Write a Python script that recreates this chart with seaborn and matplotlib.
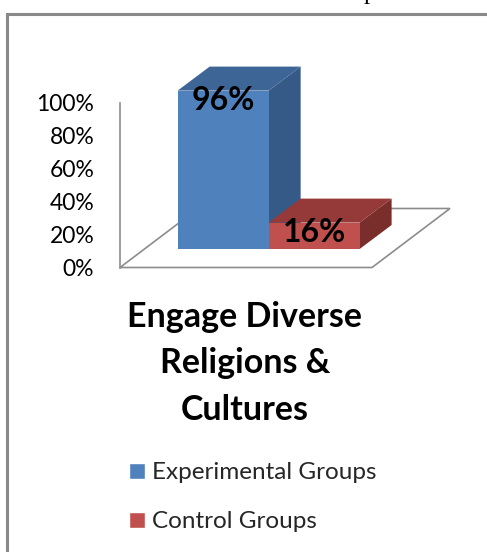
import matplotlib
matplotlib.use("Agg")
import matplotlib.pyplot as plt
from matplotlib.patches import Polygon, Rectangle
from matplotlib.transforms import ScaledTranslation
import seaborn as sns

# ---- data ----
groups = ["Experimental Groups", "Control Groups"]
values = [96, 16]
value_labels = ["96%", "16%"]
ticks = [0, 20, 40, 60, 80, 100]
tick_labels = ["0%", "20%", "40%", "60%", "80%", "100%"]
title = "Engage Diverse\nReligions &\nCultures"

front_colors = ["#4F81BD", "#C0504D"]
top_colors = ["#3D6596", "#953A38"]
side_colors = ["#365A88", "#7A2E2C"]
edge_gray = "#8C8C8C"

sns.set_theme(style="white")
plt.rcParams["font.family"] = ["Lato", "DejaVu Sans"]

W, H, DPI = 487, 552, 100
fig = plt.figure(figsize=(W / DPI, H / DPI), dpi=DPI)
fig.patch.set_facecolor("white")

# plot area (front plane of the 3-D box), placed in pixel units
left_px, right_px, base_px, top_px = 120, 372, 267.5, 102.5
ax = fig.add_axes([left_px / W, 1 - base_px / H,
                   (right_px - left_px) / W, (base_px - top_px) / H])
ax.set_facecolor("none")

sns.barplot(x=groups, y=values, hue=groups, palette=front_colors,
            width=1.0, saturation=1, ax=ax, legend=True, zorder=3)
bars = [p for p in ax.patches if isinstance(p, Rectangle) and p.get_height() > 0]

ax.set_ylim(0, 100)
ax.set_xlim(-0.87, 1.90)
ax.set_xlabel("")
ax.set_ylabel("")
ax.set_xticks([])
ax.set_yticks(ticks)
ax.set_yticklabels(tick_labels)
ax.tick_params(axis="y", length=0, pad=18.5, labelsize=16.5, labelcolor="black")
for s in ["top", "right", "bottom"]:
    ax.spines[s].set_visible(False)
ax.spines["left"].set_color(edge_gray)
ax.spines["left"].set_linewidth(1.2)
ax.spines["left"].set_zorder(1)

# depth of floor and of bars (pixels, right/up)
floor_dx, floor_dy = 78, 59
front_dx, front_dy = 24, 18.5
bar_dx, bar_dy = 32, 24

# floor parallelogram (display pixels, origin bottom-left)
fl = [(left_px, H - base_px), (right_px, H - base_px),
      (right_px + floor_dx, H - base_px + floor_dy),
      (left_px + floor_dx, H - base_px + floor_dy)]
ax.add_patch(Polygon(fl, closed=True, facecolor="white", edgecolor=edge_gray,
                     linewidth=1.2, transform=None, zorder=0.5, clip_on=False))

# 3-D bars: shift the seaborn bars back to their depth, add top and side faces
shift = ScaledTranslation(front_dx / DPI, front_dy / DPI, fig.dpi_scale_trans)
for i, (bar, lab) in enumerate(zip(bars, value_labels)):
    bar.set_transform(ax.transData + shift)
    bar.set_edgecolor("none")
    bar.set_clip_on(False)
    x0, w, h = bar.get_x(), bar.get_width(), bar.get_height()
    (ax0, ay0), (ax1, ay1) = ax.transData.transform([(x0, 0), (x0 + w, h)])
    ax0 += front_dx; ax1 += front_dx; ay0 += front_dy; ay1 += front_dy
    top = [(ax0, ay1), (ax1, ay1), (ax1 + bar_dx, ay1 + bar_dy), (ax0 + bar_dx, ay1 + bar_dy)]
    side = [(ax1, ay0), (ax1, ay1), (ax1 + bar_dx, ay1 + bar_dy), (ax1 + bar_dx, ay0 + bar_dy)]
    z = 3 + 2 * i
    bar.set_zorder(z + 0.5)
    ax.add_patch(Polygon(side, closed=True, facecolor=side_colors[i], edgecolor="none",
                         transform=None, zorder=z, clip_on=False))
    ax.add_patch(Polygon(top, closed=True, facecolor=top_colors[i], edgecolor="none",
                         transform=None, zorder=z, clip_on=False))
    ax.text((ax0 + ax1) / 2, ay1 - 9.5, lab, transform=None, ha="center", va="center",
            fontsize=23, fontweight="bold", color="black", zorder=10)

# category title under the plot
fig.text(245 / W, 1 - 301 / H, title, ha="center", va="top", fontsize=24.5,
         fontweight="bold", color="black", linespacing=1.55)

# legend
sns.move_legend(ax, loc="upper left", bbox_to_anchor=(110 / W, 1 - 443 / H),
                bbox_transform=fig.transFigure, frameon=False, title=None,
                fontsize=17.5, handlelength=0.62, handleheight=0.62,
                handletextpad=0.32, labelspacing=1.15, borderpad=0.3)

# outer frame of the chart
fig.patches.append(Rectangle((7, -10), W + 20, H - 7 + 10 - 7, transform=None,
                             fill=False, edgecolor="#898989", linewidth=2.2, zorder=20))

# descender of a line of text above the chart
fig.text(370 / W, 1 + 1 / H, "p", ha="center", va="baseline", fontsize=18,
         family="Liberation Serif", color="black")

fig.savefig("out.png", dpi=DPI, facecolor="white")
